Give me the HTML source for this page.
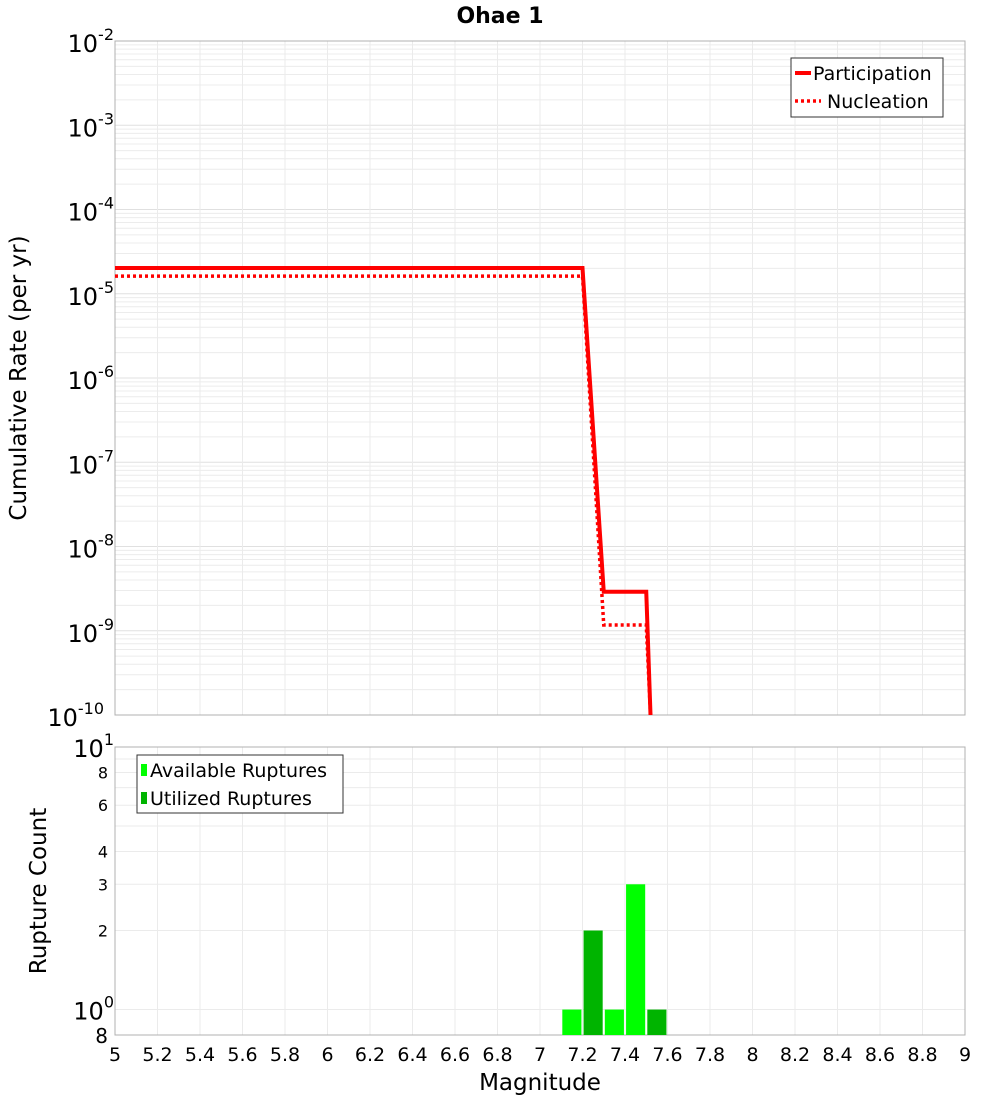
<!DOCTYPE html>
<html><head><meta charset="utf-8"><style>
body{margin:0;background:#fff;font-family:"DejaVu Sans","Liberation Sans",sans-serif}
svg text{font-family:"DejaVu Sans","Liberation Sans",sans-serif}
</style></head><body>
<svg id="c" width="1000" height="1100" xmlns="http://www.w3.org/2000/svg"></svg>
<script>
const partMag=[5,7.2,7.3,7.5,7.52];
const partRate=[2.02e-5,2.02e-5,2.9e-9,2.9e-9,1e-10];
const nuclMag=[5,7.2,7.3,7.5,7.52];
const nuclRate=[1.62e-5,1.62e-5,1.17e-9,1.17e-9,1e-10];
const barMag=[7.15,7.25,7.35,7.45,7.55];
const barCount=[1,2,1,3,1];
const barType=["available","utilized","available","available","utilized"];
const xTicks=[5,5.2,5.4,5.6,5.8,6,6.2,6.4,6.6,6.8,7,7.2,7.4,7.6,7.8,8,8.2,8.4,8.6,8.8,9];
const topExps=[-2,-3,-4,-5,-6,-7,-8,-9,-10];
const botTicks=[0.8,2,3,4,6,8];

const NS="http://www.w3.org/2000/svg";
const svg=document.getElementById('c');
function el(t,a,p){const e=document.createElementNS(NS,t);for(const k in a)e.setAttribute(k,a[k]);(p||svg).appendChild(e);return e;}
const X0=115,X1=965;
const xs=m=>X0+(m-5)/4*(X1-X0);
const T0=41,T1=715;
const ys=v=>T0+(-2-Math.log10(v))/8*(T1-T0);
const B0=747,B1=1035;
const yb=v=>B0+(1-Math.log10(v))/(1-Math.log10(0.8))*(B1-B0);

let t=el('text',{x:500,y:23,'text-anchor':'middle','font-size':22,'font-weight':'bold'});t.textContent='Ohae 1';


const g1=el('g',{});
el('rect',{x:X0,y:T0,width:X1-X0,height:T1-T0,fill:'#fff'},g1);
for(let e=-10;e<-2;e++)for(let k=1;k<10;k++){const y=ys(k*Math.pow(10,e));el('line',{x1:X0,x2:X1,y1:y,y2:y,stroke:k==1?'#e0e0e0':'#ececec','stroke-width':1},g1);}
xTicks.forEach(m=>{el('line',{x1:xs(m),x2:xs(m),y1:T0,y2:T1,stroke:'#ebebeb'},g1);});
el('rect',{x:X0,y:T0,width:X1-X0,height:T1-T0,fill:'none',stroke:'#b0b0b0'},g1);
topExps.forEach(e=>{const y=ys(Math.pow(10,e));const tx=el('text',{x:e==-10?104:114,y:y+11,'text-anchor':'end','font-size':24},g1);
 tx.innerHTML='10<tspan dy="-12" font-size="16">'+e+'</tspan>';});
const yt=el('text',{transform:'translate(26,378) rotate(-90)','text-anchor':'middle','font-size':23});yt.textContent='Cumulative Rate (per yr)';

const cp=el('clipPath',{id:'cp1'});
el('rect',{x:X0,y:T0,width:X1-X0,height:T1-T0},cp);
const pl=el('polyline',{points:partMag.map((m,i)=>xs(m)+','+ys(partRate[i])).join(' '),fill:'none',stroke:'#f00','stroke-width':4,'clip-path':'url(#cp1)'},g1);

const nl=el('polyline',{points:nuclMag.map((m,i)=>xs(m)+','+ys(nuclRate[i])).join(' '),fill:'none',stroke:'#f00','stroke-width':3.5,'stroke-dasharray':'3,3','clip-path':'url(#cp1)'},g1);

const lg=el('g',{},g1);
el('rect',{x:791,y:58,width:152,height:59,fill:'#fff',stroke:'#333'},lg);
el('line',{x1:795,x2:811,y1:73,y2:73,stroke:'#f00','stroke-width':4},lg);
el('line',{x1:795,x2:821,y1:101,y2:101,stroke:'#f00','stroke-width':3.5,'stroke-dasharray':'3,3'},lg);
let l1=el('text',{x:813,y:80,'font-size':19},lg);l1.textContent='Participation';
let l2=el('text',{x:827,y:108,'font-size':19},lg);l2.textContent='Nucleation';

const g2=el('g',{});
[1,2,3,4,5,6,7,8,9,10].forEach(v=>{const y=yb(v);el('line',{x1:X0,x2:X1,y1:y,y2:y,stroke:'#ebebeb'},g2);});
xTicks.forEach(m=>{el('line',{x1:xs(m),x2:xs(m),y1:B0,y2:B1,stroke:'#ebebeb'},g2);});
el('rect',{x:X0,y:B0,width:X1-X0,height:B1-B0,fill:'none',stroke:'#b0b0b0'},g2);
barMag.forEach((m,i)=>{const y=yb(barCount[i]);const r=el('rect',{x:xs(m-0.045),y:y,width:xs(m+0.045)-xs(m-0.045),height:B1-y,fill:barType[i]=='available'?'#00ff00':'#00b400'},g2);
 });
botTicks.forEach(v=>{const tx=el('text',{x:108,y:yb(v)+(v==0.8?8:6),'text-anchor':'end','font-size':v==0.8?20:16},g2);tx.textContent=v==0.8?'8':String(v);
 });
[[1,0],[10,1]].forEach(([v,e])=>{const tx=el('text',{x:114,y:yb(v)+10,'text-anchor':'end','font-size':24},g2);tx.innerHTML='10<tspan dy="-12" font-size="16">'+e+'</tspan>';});
const yt2=el('text',{transform:'translate(46,891) rotate(-90)','text-anchor':'middle','font-size':23});yt2.textContent='Rupture Count';

xTicks.forEach(m=>{const tx=el('text',{x:xs(m),y:1061,'text-anchor':'middle','font-size':19});tx.textContent=String(m);
 });
const xt=el('text',{x:540,y:1090,'text-anchor':'middle','font-size':23});xt.textContent='Magnitude';

const lg2=el('g',{},g2);
el('rect',{x:137,y:755,width:206,height:58,fill:'#fff',stroke:'#333'},lg2);
el('rect',{x:141,y:764,width:6,height:12,fill:'#00ff00'},lg2);
el('rect',{x:141,y:792,width:6,height:12,fill:'#00b400'},lg2);
let l3=el('text',{x:150,y:777,'font-size':19},lg2);l3.textContent='Available Ruptures';
let l4=el('text',{x:150,y:805,'font-size':19},lg2);l4.textContent='Utilized Ruptures';
</script>
</body></html>
